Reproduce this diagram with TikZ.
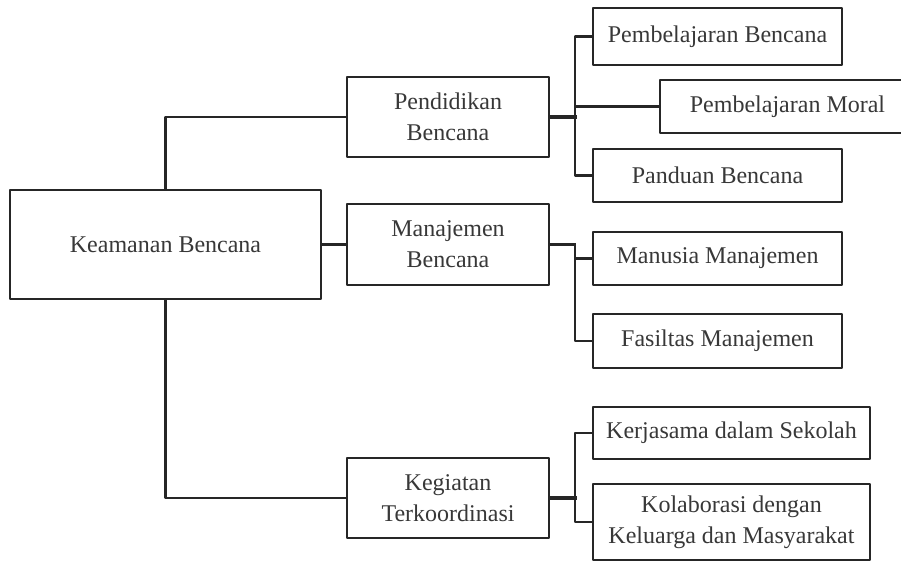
\documentclass[tikz,border=0pt]{standalone}
\usepackage{fontspec}
\setmainfont{Liberation Serif}
\usepackage{tikz}

\begin{document}
\begin{tikzpicture}[line cap=round,line join=round,x=1pt,y=-1pt,
    box/.style={draw=black!85,line width=2.8pt,inner sep=0pt,align=center,
      text=black!78,font=\fontsize{24}{31}\selectfont},
    link/.style={draw=black!85,line width=2.8pt,line cap=rect},
    heavy/.style={draw=black!85,line width=4.6pt,line cap=rect}]
    \useasboundingbox (0,0) rectangle (901,562);
    \clip (0,0) rectangle (901,562);
    \fill [white] (0,0) rectangle (901,562);
    % main boxes
    \node [box,minimum width=311pt,minimum height=109pt] (root) at (165.5,244.5) {Keamanan Bencana};
    \node [box,minimum width=202pt,minimum height=80pt] (pend) at (448,117) {Pendidikan\\Bencana};
    \node [box,minimum width=202pt,minimum height=81pt] (mana) at (448,244.5) {Manajemen\\Bencana};
    \node [box,minimum width=202pt,minimum height=80pt] (kegi) at (448,498) {Kegiatan\\Terkoordinasi};
    % sub boxes
    \node [box,minimum width=249pt,minimum height=57pt] (pbenc) at (717.5,36.5) {Pembelajaran Bencana};
    \node [box,minimum width=255pt,minimum height=53pt] (pmoral) at (787.5,106.5) {Pembelajaran Moral};
    \node [box,minimum width=249pt,minimum height=53pt] (pandu) at (717.5,175.5) {Panduan Bencana};
    \node [box,minimum width=249pt,minimum height=53pt] (manus) at (717.5,258.5) {Manusia Manajemen};
    \node [box,minimum width=249pt,minimum height=54pt] (fasil) at (717.5,341) {Fasiltas Manajemen};
    \node [box,minimum width=277pt,minimum height=52pt] (kerja) at (731.5,433) {Kerjasama dalam Sekolah};
    \node [box,minimum width=277pt,minimum height=76pt] (kolab) at (731.5,522) {Kolaborasi dengan\\Keluarga dan Masyarakat};
    % junctions
    \coordinate (jpend) at (575,117);
    \coordinate (jmana) at (575,244.5);
    \coordinate (jkegi) at (575,498);
    % root links
    \draw [link] (root.north) |- (pend.west);
    \draw [link] (root.east) -- (mana.west);
    \draw [link] (root.south) |- (kegi.west);
    % pendidikan links
    \draw [heavy] (pend.east) -- (jpend);
    \draw [link] (jpend) |- (pbenc.west);
    \draw [link] (jpend) |- (pmoral.west);
    \draw [link] (jpend) |- (pandu.west);
    % manajemen links
    \draw [link] (mana.east) -- (jmana);
    \draw [link] (jmana) |- (manus.west);
    \draw [link] (jmana) |- (fasil.west);
    % kegiatan links
    \draw [heavy] (kegi.east) -- (jkegi);
    \draw [link] (jkegi) |- (kerja.west);
    \draw [link] (jkegi) |- (kolab.west);
\end{tikzpicture}
\end{document}
